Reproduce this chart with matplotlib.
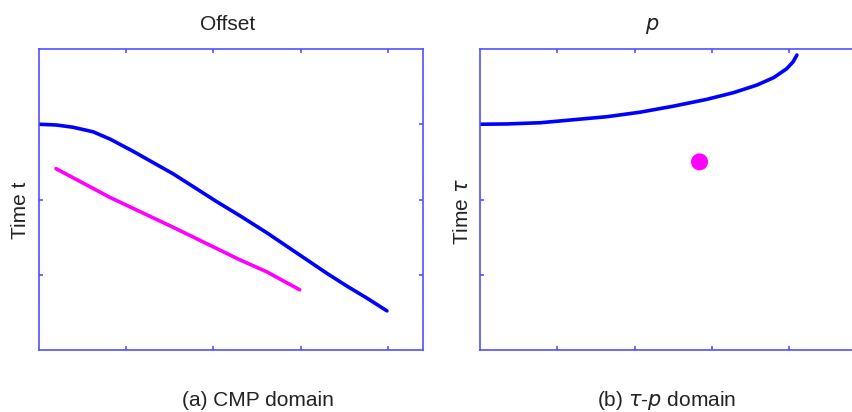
import matplotlib
matplotlib.use("Agg")
import matplotlib.pyplot as plt

plt.rcParams['font.family'] = ['Liberation Sans', 'DejaVu Sans']

# Left panel (CMP domain)
cmp_offset = [0.0, 0.20, 0.39, 0.62, 0.82, 1.08, 1.31, 1.54, 1.77, 2.04,
              2.31, 2.61, 2.84, 3.07, 3.30, 3.53, 3.76, 3.99]
cmp_time_blue = [1.0, 1.01, 1.04, 1.10, 1.20, 1.36, 1.51, 1.66, 1.83, 2.03,
                 2.22, 2.44, 2.62, 2.80, 2.98, 3.15, 3.31, 3.48]
cmp_offset_mag = [0.195, 0.81, 1.54, 2.30, 2.61, 2.99]
cmp_time_mag = [1.59, 1.97, 2.37, 2.80, 2.96, 3.20]

# Right panel (tau-p domain)
tp_p = [0.0, 0.35, 0.78, 1.21, 1.64, 2.07, 2.50, 2.93, 3.28, 3.58, 3.80,
        3.97, 4.05, 4.10]
tp_tau = [1.0, 0.996, 0.98, 0.94, 0.90, 0.84, 0.76, 0.67, 0.58, 0.48, 0.38,
          0.26, 0.17, 0.08]
dot_p = [2.84]
dot_tau = [1.50]

ticks = [1, 2, 3, 4]
yticks = [1, 2, 3]

W, H = 852, 412
fig = plt.figure(figsize=(W/100, H/100), dpi=100)

spine_col = '#5050ff'
txt_col = '#222222'
fs = 15

def style(ax):
    for s in ax.spines.values():
        s.set_color(spine_col)
        s.set_linewidth(1.2)
    ax.tick_params(direction='in', length=3, width=1.2, color=spine_col,
                   top=True, right=True, labelbottom=False, labelleft=False)
    ax.set_xticks(ticks)
    ax.set_yticks(yticks)

# left axes
ax1 = fig.add_axes([39/W, 1-350/H, (423-39)/W, (350-49)/H])
ax1.set_xlim(0, (423-39)/87.2)
ax1.set_ylim(4, 0)
style(ax1)
ax1.plot(cmp_offset, cmp_time_blue, color='#0000ff', lw=2.6, solid_capstyle='round')
ax1.plot(cmp_offset_mag, cmp_time_mag, color='#ff00ff', lw=2.6, solid_capstyle='round')
fig.text(228/W, 1-24/H, 'Offset', ha='center', va='center', fontsize=fs, color=txt_col)
fig.text(21/W, 1-210/H, 'Time t', ha='center', va='center', rotation=90, fontsize=fs, color=txt_col)
fig.text(258/W, 1-401/H, '(a) CMP domain', ha='center', va='center', fontsize=fs, color=txt_col)

# right axes (extends past the figure edge)
ax2 = fig.add_axes([480/W, 1-350/H, 5.5*77.3/W, (350-49)/H])
ax2.set_xlim(0, 5.5)
ax2.set_ylim(4, 0)
style(ax2)
ax2.plot(tp_p, tp_tau, color='#0000ff', lw=2.6, solid_capstyle='round')
ax2.scatter(dot_p, dot_tau, s=150, color='#ff00ff', edgecolors='none', zorder=3)
fig.text(652/W, 1-26/H, r'$p$', ha='center', va='center', fontsize=fs, color=txt_col)
fig.text(462/W, 1-212/H, r'Time $\tau$', ha='center', va='center', rotation=90, fontsize=fs, color=txt_col)
fig.text(667/W, 1-401/H, r'(b) $\tau$-$p$ domain', ha='center', va='center', fontsize=fs, color=txt_col)

fig.savefig('out.png', dpi=100)
